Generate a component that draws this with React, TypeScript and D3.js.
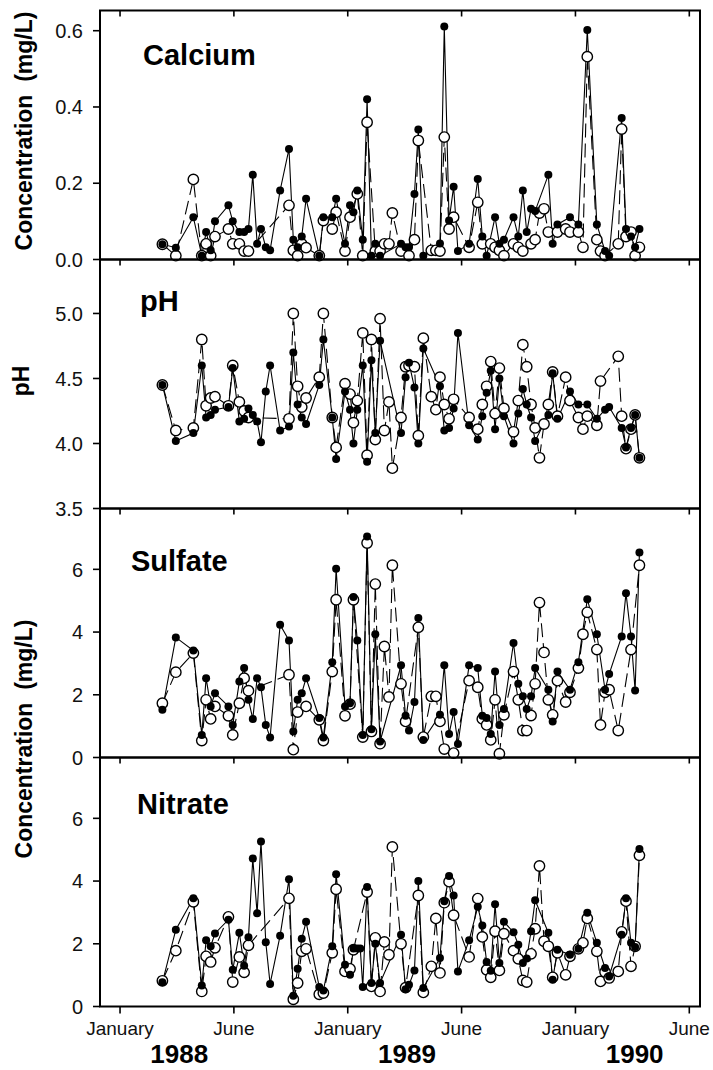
import React from "react";
import * as d3 from "d3";

// Sampling times (decimal years)
const sampleTimes: number[] = [
  1988.186, 1988.245, 1988.322, 1988.359, 1988.378, 1988.398, 1988.417, 1988.476, 1988.495, 1988.524,
  1988.545, 1988.564, 1988.583, 1988.602, 1988.619, 1988.640, 1988.659, 1988.703, 1988.742, 1988.761,
  1988.780, 1988.798, 1988.817, 1988.875, 1988.893, 1988.932, 1988.949, 1988.988, 1989.010, 1989.025,
  1989.042, 1989.055, 1989.066, 1989.085, 1989.104, 1989.121, 1989.142, 1989.161, 1989.181, 1989.196,
  1989.234, 1989.254, 1989.269, 1989.293, 1989.310, 1989.332, 1989.367, 1989.387, 1989.405, 1989.424,
  1989.445, 1989.465, 1989.484, 1989.533, 1989.571, 1989.591, 1989.610, 1989.628, 1989.647, 1989.666,
  1989.686, 1989.728, 1989.749, 1989.769, 1989.786, 1989.805, 1989.823, 1989.842, 1989.862, 1989.881,
  1989.900, 1989.921, 1989.957, 1989.976, 1990.013, 1990.033, 1990.052, 1990.094, 1990.110, 1990.130,
  1990.148, 1990.188, 1990.203, 1990.222, 1990.244, 1990.262, 1990.281,
];

type V = number | null;
const n = null;

const calciumFilled: V[] = [
  0.04, 0.031, 0.111, 0.01, 0.072, 0.024, 0.1, 0.142, 0.1, 0.072,
  0.072, 0.08, 0.222, 0.041, 0.08, 0.032, 0.024, 0.181, 0.29, 0.052,
  0.032, 0.06, 0.159, 0.01, 0.111, 0.111, 0.159, 0.041, 0.142, 0.124,
  0.181, n, 0.052, 0.42, 0.01, 0.041, 0.01, n, n, n,
  0.041, 0.032, 0.032, 0.172, 0.341, 0.01, n, n, 0.042, 0.611,
  0.102, 0.191, 0.022, 0.041, 0.211, 0.06, 0.01, n, 0.111, 0.041,
  0.052, 0.111, 0.06, 0.181, 0.072, 0.133, 0.127, n, n, 0.222,
  0.041, 0.092, n, 0.111, 0.092, n, 0.602, 0.092, n, 0.022,
  0.01, n, 0.371, 0.08, 0.06, 0.032, 0.08,
];
const calciumOpen: V[] = [
  0.04, 0.01, 0.21, 0.01, 0.041, 0.01, 0.06, 0.08, 0.041, 0.041,
  0.022, 0.022, n, n, n, n, n, n, 0.142, 0.024,
  0.01, 0.041, 0.031, 0.01, 0.102, 0.08, 0.124, 0.022, 0.111, n,
  0.172, n, 0.01, 0.36, n, 0.022, 0.022, 0.041, 0.041, 0.122,
  0.022, n, 0.01, 0.052, 0.312, n, 0.024, 0.024, 0.022, 0.321,
  0.08, 0.111, n, 0.032, 0.15, 0.041, n, 0.041, 0.032, 0.024,
  0.01, 0.041, 0.032, 0.022, n, 0.041, 0.052, 0.122, 0.133, 0.072,
  n, 0.072, 0.08, 0.072, 0.072, 0.032, 0.532, 0.052, 0.022, 0.01,
  n, 0.041, 0.342, 0.06, 0.072, 0.01, 0.032,
];

const phFilled: V[] = [
  4.45, 4.02, 4.08, 4.6, 4.2, 4.22, 4.26, 4.28, 4.58, 4.17,
  4.19, 4.27, 4.22, 4.17, 4.01, 4.4, 4.6, 4.1, 4.13, 4.7,
  4.3, 4.2, 4.15, 4.45, 4.8, 4.2, 3.88, 4.4, 4.26, 4.0,
  4.26, n, 4.6, 3.86, 4.64, 4.08, 4.79, n, n, n,
  4.08, 4.51, 4.62, 4.43, 4.0, 4.73, n, n, 4.44, 4.1,
  4.12, 4.27, 4.85, 4.14, 4.03, 4.21, 4.39, 4.56, 4.11, 4.5,
  4.21, 4.0, 4.23, 4.42, 4.3, 4.2, 4.02, n, n, 4.22,
  4.54, 4.19, n, 4.4, 4.3, n, 4.3, 4.19, n, 4.26,
  4.28, n, 4.12, 3.97, 4.12, 4.22, 3.89,
];
const phOpen: V[] = [
  4.45, 4.1, 4.12, 4.8, 4.29, 4.35, 4.36, 4.29, 4.6, 4.32,
  4.25, 4.2, n, n, n, n, n, n, 4.19, 5.0,
  4.44, 4.28, 4.35, 4.51, 5.0, 4.2, 3.97, 4.46, 4.38, 4.16,
  4.33, n, 4.85, 3.91, 4.8, 4.03, 4.96, 4.1, 4.32, 3.81,
  4.2, 4.59, 4.6, 4.59, 4.06, 4.81, 4.36, 4.26, 4.51, 4.3,
  4.19, 4.34, n, 4.2, 4.11, 4.3, 4.44, 4.63, 4.23, 4.58,
  4.27, 4.09, 4.33, 4.76, 4.59, 4.3, 4.12, 3.89, 4.15, 4.3,
  4.55, 4.21, 4.51, 4.33, 4.2, 4.11, 4.21, 4.14, 4.48, n,
  n, 4.67, 4.21, 3.96, 4.11, 4.22, 3.89,
];

const sulfateFilled: V[] = [
  1.52, 3.83, 3.41, 0.72, 2.53, 1.63, 2.05, 1.63, 1.04, 2.42,
  2.85, 1.84, 1.23, 2.53, 2.24, 1.04, 0.64, 4.23, 3.73, 0.83,
  1.84, 2.05, 2.53, 1.26, 0.64, 3.04, 6.02, 1.63, 1.73, 5.12,
  3.73, n, 0.72, 7.05, 0.9, 3.93, 0.51, n, n, n,
  2.94, 1.33, 0.86, 1.77, 4.45, 0.56, n, n, 1.36, 2.94,
  0.75, 1.45, 0.43, 2.94, 2.85, 1.33, 1.26, 0.75, 2.74, 1.04,
  1.55, 3.65, 2.35, 1.95, 1.55, 1.95, 2.85, n, n, 2.16,
  1.15, 2.74, n, 2.16, 3.04, n, 5.05, 3.93, n, 2.16,
  2.66, n, 3.86, 5.24, 3.86, 2.14, 6.54,
];
const sulfateOpen: V[] = [
  1.73, 2.72, 3.33, 0.54, 1.84, 1.23, 1.63, 1.33, 0.72, 1.73,
  2.53, 2.13, n, n, n, n, n, n, 2.64, 0.25,
  1.45, n, 1.63, 1.2, 0.54, 2.74, 5.03, 1.33, 1.7, 5.03,
  n, n, 0.65, 6.84, 0.83, 5.53, 0.44, 3.54, 1.93, 6.13,
  2.35, 1.15, n, n, 4.15, 0.65, 1.95, 1.95, 1.15, 0.27,
  n, 0.14, n, 2.45, 2.24, 1.23, 1.04, 0.56, 1.84, 0.12,
  1.36, 2.74, 1.84, 0.86, 0.86, 1.34, 2.35, 4.94, 3.35, 1.84,
  1.36, 2.45, 1.77, 2.08, 2.85, 3.93, 4.63, 3.44, 1.04, 2.08,
  2.16, 0.86, n, n, 3.44, n, 6.13,
];

const nitrateFilled: V[] = [
  0.77, 2.45, 3.45, 0.67, 2.11, 1.92, 2.33, 2.77, 1.17, 2.35,
  1.3, 2.21, 4.72, 2.97, 5.26, 2.05, 0.72, 2.26, 4.06, 0.34,
  1.2, 2.16, 2.7, 0.62, 0.51, 1.92, 4.22, 1.33, 1.01, 1.85,
  1.85, 1.85, 0.62, 3.81, 0.75, 2.0, 0.75, n, n, n,
  2.29, 0.55, 0.69, 1.15, 4.0, 0.59, n, n, 1.55, 3.36,
  4.16, 3.54, 1.12, 2.11, 3.18, 2.58, 1.42, 1.14, 3.26, 1.39,
  2.7, 2.37, 1.97, 1.39, 1.53, 2.4, 3.39, n, n, 2.35,
  0.85, 1.81, n, 1.65, 1.84, n, 2.99, 2.03, n, 1.23,
  0.96, n, 2.29, 3.45, 2.03, 1.9, 5.02,
];
const nitrateOpen: V[] = [
  0.82, 1.78, 3.34, 0.48, 1.6, 1.42, 1.87, 2.86, 0.78, 1.58,
  1.09, 1.95, n, n, n, n, n, n, 3.45, 0.23,
  0.75, 1.76, 1.84, 0.39, 0.43, 1.71, 3.74, 1.12, 1.2, 1.81,
  n, n, n, 3.65, 0.64, 2.19, 0.48, 2.06, 1.65, 5.09,
  2.0, 0.6, n, n, 3.54, 0.45, 1.28, 2.81, 1.07, 3.31,
  3.98, 2.91, n, 1.58, 3.44, 2.22, 1.17, 0.93, 2.4, 1.15,
  2.32, 1.78, 1.52, 0.83, 0.78, 1.68, 2.48, 4.48, 2.08, 1.92,
  0.93, 1.71, 1.01, 1.6, 1.84, 2.03, 2.81, 1.76, 0.8, 1.1,
  0.91, 1.12, 2.38, 3.36, 1.28, 1.92, 4.82,
];

const xTickValues = [1988, 1988.5, 1989, 1989.5, 1990, 1990.5];
const xTickLabels = ["January", "June", "January", "June", "January", "June"];
const yearValues = [1988, 1989, 1990];
const yearLabels = ["1988", "1989", "1990"];

const calciumTicks = [0, 0.2, 0.4, 0.6];
const phTicks = [3.5, 4.0, 4.5, 5.0];
const sulfateTicks = [0, 2, 4, 6];
const nitrateTicks = [0, 2, 4, 6];

const panelTitles = ["Calcium", "pH", "Sulfate", "Nitrate"];

// ---------- layout ----------
const W = 713;
const H = 1070;
const left = 100;
const right = 700;
const top0 = 10.5;
const panelH = 249;
const FONT = "'Liberation Sans', Arial, Helvetica, sans-serif";

const x = d3.scaleLinear().domain([1987.912, 1990.547]).range([left, right]);

interface Panel {
  title: string;
  domain: [number, number];
  ticks: number[];
  fmt: (v: number) => string;
  filled: V[];
  open: V[];
  titleX: number;
  titleY: number;
}

const panels: Panel[] = [
  { title: panelTitles[0], domain: [0, 0.653], ticks: calciumTicks, fmt: d3.format(".1f"), filled: calciumFilled, open: calciumOpen, titleX: 143, titleY: 54.5 },
  { title: panelTitles[1], domain: [3.5, 5.415], ticks: phTicks, fmt: d3.format(".1f"), filled: phFilled, open: phOpen, titleX: 140, titleY: 51 },
  { title: panelTitles[2], domain: [0, 7.94], ticks: sulfateTicks, fmt: d3.format("d"), filled: sulfateFilled, open: sulfateOpen, titleX: 131, titleY: 62.5 },
  { title: panelTitles[3], domain: [0, 7.94], ticks: nitrateTicks, fmt: d3.format("d"), filled: nitrateFilled, open: nitrateOpen, titleX: 137, titleY: 56 },
];

function PanelView({ p, i }: { p: Panel; i: number }) {
  const top = top0 + i * panelH;
  const bottom = top + panelH;
  const y = d3.scaleLinear().domain(p.domain).range([bottom, top]);
  const pts = (arr: V[]) =>
    arr
      .map((v, k) => (v == null ? null : ([sampleTimes[k], v] as [number, number])))
      .filter((d): d is [number, number] => d != null);
  const fPts = pts(p.filled);
  const oPts = pts(p.open);
  const line = d3
    .line<[number, number]>()
    .x((d) => x(d[0]))
    .y((d) => y(d[1]));
  return (
    <g>
      <rect x={left} y={top} width={right - left} height={panelH} fill="none" stroke="#000" strokeWidth={2} />
      {p.ticks.map((t) => (
        <g key={t}>
          <line x1={left - 7} x2={left} y1={y(t)} y2={y(t)} stroke="#000" strokeWidth={1.6} />
          <text x={83} y={y(t)} dy="0.36em" textAnchor="end" fontSize={20} fontFamily={FONT} fill="#111">
            {p.fmt(t)}
          </text>
        </g>
      ))}
      {xTickValues.map((t) => (
        <line key={t} x1={x(t)} x2={x(t)} y1={top} y2={top + 6} stroke="#000" strokeWidth={1.6} />
      ))}
      <text x={p.titleX} y={top + p.titleY} fontSize={29} fontWeight="bold" fontFamily={FONT} fill="#000">
        {p.title}
      </text>
      <path d={line(oPts) || ""} fill="none" stroke="#000" strokeWidth={1.1} strokeDasharray="14,6" />
      <path d={line(fPts) || ""} fill="none" stroke="#000" strokeWidth={1.1} />
      {oPts.map((d, k) => (
        <circle key={"o" + k} cx={x(d[0])} cy={y(d[1])} r={5.2} fill="#fff" stroke="#000" strokeWidth={1.4} />
      ))}
      {fPts.map((d, k) => (
        <circle key={"f" + k} cx={x(d[0])} cy={y(d[1])} r={4} fill="#000" />
      ))}
    </g>
  );
}

export default function App() {
  React.useEffect(() => {
    document.body.style.margin = "0";
  }, []);
  const bottom = top0 + 4 * panelH;
  const yLabel = "Concentration\u00A0\u00A0(mg/L)";
  return (
    <svg width={W} height={H} style={{ position: "absolute", left: 0, top: 0, background: "#fff" }}>
      <rect x={0} y={0} width={W} height={H} fill="#fff" />
      {panels.map((p, i) => (
        <PanelView key={p.title} p={p} i={i} />
      ))}
      {xTickValues.map((t, k) => (
        <g key={t}>
          <line x1={x(t)} x2={x(t)} y1={bottom} y2={bottom + 7} stroke="#000" strokeWidth={1.6} />
          <text x={x(t)} y={1035} textAnchor="middle" fontSize={19} fontFamily={FONT} fill="#111">
            {xTickLabels[k]}
          </text>
        </g>
      ))}
      {yearValues.map((yv, k) => (
        <text key={yv} x={x(yv + 0.26)} y={1063} textAnchor="middle" fontSize={26} fontWeight="bold" fontFamily={FONT} fill="#000">
          {yearLabels[k]}
        </text>
      ))}
      <text transform="translate(32,131) rotate(-90)" textAnchor="middle" fontSize={23} fontWeight="bold" fontFamily={FONT} fill="#000">
        {yLabel}
      </text>
      <text transform="translate(29,381) rotate(-90)" textAnchor="middle" fontSize={23} fontWeight="bold" fontFamily={FONT} fill="#000">
        pH
      </text>
      <text transform="translate(32,739) rotate(-90)" textAnchor="middle" fontSize={23} fontWeight="bold" fontFamily={FONT} fill="#000">
        {yLabel}
      </text>
    </svg>
  );
}
